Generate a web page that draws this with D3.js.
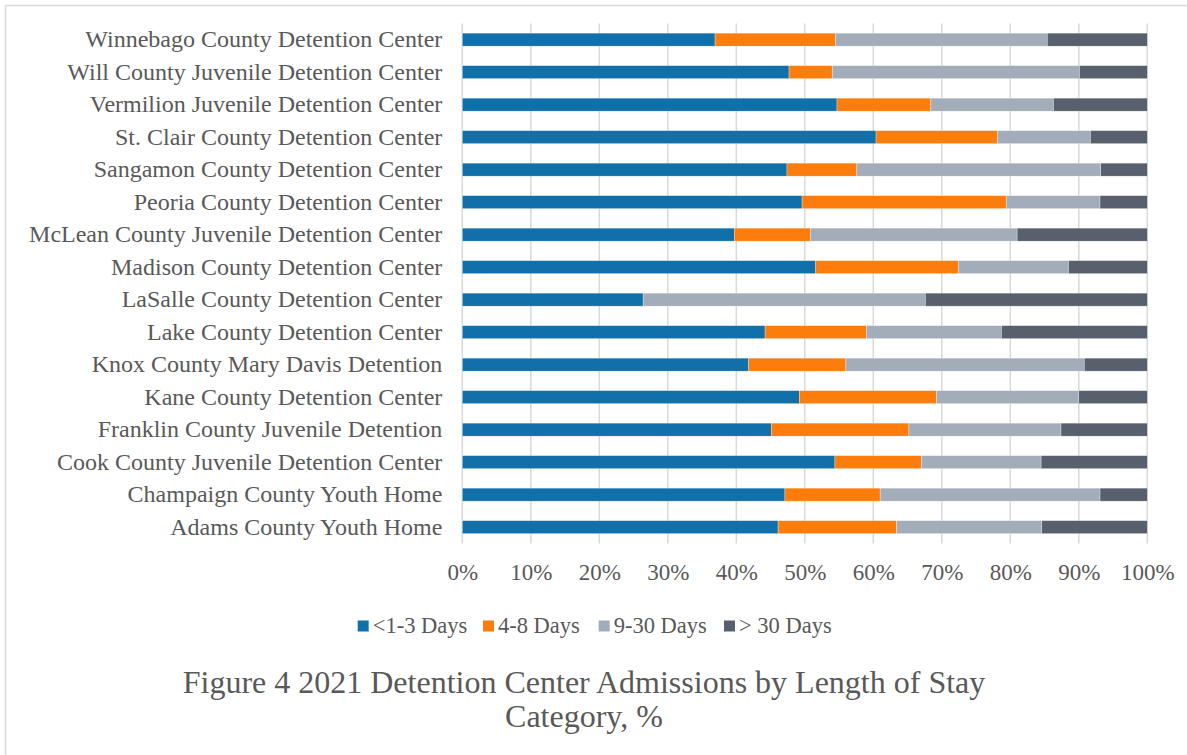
<!DOCTYPE html>
<html>
<head>
<meta charset="utf-8">
<script src="https://cdn.jsdelivr.net/npm/d3@7"></script>
<style>
  body { margin: 0; background: #fff; }
  text { font-family: "Liberation Serif", "Times New Roman", serif; fill: #595959; }
</style>
</head>
<body>
<script>
// facilities, top to bottom
var centers = ["Winnebago County Detention Center", "Will County Juvenile Detention Center",
    "Vermilion Juvenile Detention Center", "St. Clair County Detention Center",
    "Sangamon County Detention Center", "Peoria County Detention Center",
    "McLean County Juvenile Detention Center", "Madison County Detention Center",
    "LaSalle County Detention Center", "Lake County Detention Center",
    "Knox County Mary Davis Detention", "Kane County Detention Center",
    "Franklin County Juvenile Detention", "Cook County Juvenile Detention Center",
    "Champaign County Youth Home", "Adams County Youth Home"];
var seriesNames = ["<1-3 Days", "4-8 Days", "9-30 Days", "> 30 Days"];
var days1to3 = [36.9, 47.7, 54.7, 60.4, 47.4, 49.6, 39.7, 51.6, 26.4, 44.2, 41.8, 49.2, 45.1, 54.4, 47.1, 46.1];
var days4to8 = [17.6, 6.3, 13.7, 17.7, 10.2, 29.8, 11.1, 20.8, 0, 14.8, 14.2, 20.0, 20.1, 12.6, 13.9, 17.3];
var days9to30 = [30.9, 36.1, 17.9, 13.6, 35.6, 13.7, 30.2, 16.1, 41.2, 19.7, 34.8, 20.8, 22.2, 17.5, 32.1, 21.2];
var daysOver30 = [14.6, 9.9, 13.7, 8.3, 6.8, 6.9, 19.0, 11.5, 32.4, 21.3, 9.2, 10.0, 12.6, 15.5, 6.9, 15.4];
var tickValues = [0, 10, 20, 30, 40, 50, 60, 70, 80, 90, 100];
var colors = ["#1170aa", "#fc7d0b", "#a3acb9", "#57606c"];

var width = 1187, height = 755;
var plotLeft = 462.3, plotRight = 1147.3, plotTop = 23.4, plotBottom = 543.4;

var svg = d3.select("body").append("svg")
    .attr("width", width)
    .attr("height", height);

// frame edge (only top and left visible in crop)
svg.append("path")
    .attr("d", "M5.5,755 L5.5,5.5 L1187,5.5")
    .attr("fill", "none")
    .attr("stroke", "#d9d9d9")
    .attr("stroke-width", 1.5);

var rows = centers.map(function(c, i){
    return { name: c, s0: days1to3[i], s1: days4to8[i], s2: days9to30[i], s3: daysOver30[i] };
});

var xScale = d3.scaleLinear().domain([0, 100]).range([plotLeft, plotRight]);
var yScale = d3.scaleBand().domain(centers).range([plotTop, plotBottom]).paddingInner(0.6).paddingOuter(0.3);

//gridlines
svg.append("g").selectAll("line")
    .data(tickValues)
    .enter()
    .append("line")
    .attr("x1", function(d){ return xScale(d); })
    .attr("x2", function(d){ return xScale(d); })
    .attr("y1", plotTop)
    .attr("y2", plotBottom)
    .attr("stroke", "#d9d9d9")
    .attr("stroke-width", 1.5);

var stack = d3.stack().keys(["s0", "s1", "s2", "s3"]);
var layers = stack(rows);

svg.append("g").selectAll("g")
    .data(layers)
    .enter()
    .append("g")
    .attr("fill", function(d, i){ return colors[i]; })
    .selectAll("rect")
    .data(function(d){ return d; })
    .enter()
    .append("rect")
    .attr("x", function(d){ return xScale(d[0]); })
    .attr("width", function(d){ return xScale(d[1]) - xScale(d[0]); })
    .attr("y", function(d){ return yScale(d.data.name); })
    .attr("height", yScale.bandwidth())
    .attr("stroke", "#fff")
    .attr("stroke-width", 0.5)
    .attr("stroke-opacity", 0.6);

//category labels
var yAxis = d3.axisLeft(yScale).tickSize(0).tickPadding(20);
var yAxisG = svg.append("g")
    .attr("transform", "translate(" + plotLeft + ",0)")
    .call(yAxis);
yAxisG.select(".domain").remove();
yAxisG.selectAll("text")
    .style("font-size", "24px")
    .attr("fill", "#595959");

//percent ticks
var xAxis = d3.axisBottom(xScale).tickValues(tickValues).tickSize(0).tickPadding(20)
    .tickFormat(function(d){ return d + "%"; });
var xAxisG = svg.append("g")
    .attr("transform", "translate(0," + plotBottom + ")")
    .call(xAxis);
xAxisG.select(".domain").remove();
xAxisG.selectAll("text")
    .style("font-size", "23px")
    .attr("fill", "#595959");

//legend
var legendX = [357.7, 483, 598.7, 724];
var legend = svg.append("g").selectAll("g")
    .data(seriesNames)
    .enter()
    .append("g")
    .attr("transform", function(d, i){ return "translate(" + legendX[i] + ",620.5)"; });
legend.append("rect")
    .attr("width", 11)
    .attr("height", 11)
    .attr("fill", function(d, i){ return colors[i]; });
legend.append("text")
    .attr("x", 15)
    .attr("y", 12)
    .style("font-size", "22.5px")
    .text(function(d){ return d; });

//title
var title = svg.append("text")
    .attr("x", 584)
    .attr("y", 693)
    .attr("text-anchor", "middle")
    .style("font-size", "32px");
title.append("tspan").attr("x", 584).text("Figure 4 2021 Detention Center Admissions by Length of Stay");
title.append("tspan").attr("x", 584).attr("dy", 34).text("Category, %");
</script>
</body>
</html>
